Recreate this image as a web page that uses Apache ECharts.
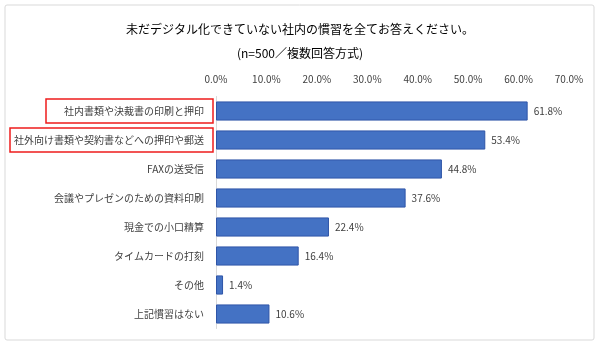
<!DOCTYPE html>
<html><head><meta charset="utf-8">
<script src="https://cdn.jsdelivr.net/npm/echarts@6/dist/echarts.min.js"></script>
<style>html,body{margin:0;padding:0;background:#fff}#c{width:600px;height:346px}</style>
</head><body><div id="c"></div>
<script>
const titleText = '未だデジタル化できていない社内の慣習を全てお答えください。';
const subtitleText = '(n=500／複数回答方式)';
const categories = ['社内書類や決裁書の印刷と押印','社外向け書類や契約書などへの押印や郵送','FAXの送受信','会議やプレゼンのための資料印刷','現金での小口精算','タイムカードの打刻','その他','上記慣習はない'];
const values = [61.8, 53.4, 44.8, 37.6, 22.4, 16.4, 1.4, 10.6];
const highlighted = [0, 1];
const axisMax = 70, axisStep = 10;
const FONT = '"Noto Sans CJK JP", "Noto Sans", sans-serif';

const chart = echarts.init(document.getElementById('c'), null, {renderer:'canvas'});
const grid = {left:216, top:96.5, width:353, height:232};
chart.setOption({
  animation:false,
  textStyle:{fontFamily:FONT},
  title:[
    {text:titleText, left:'center', top:18, textStyle:{fontSize:12, fontWeight:'normal', color:'#000', fontFamily:FONT}},
    {text:subtitleText, left:'center', top:42, textStyle:{fontSize:12, fontWeight:'normal', color:'#000', fontFamily:FONT}}
  ],
  grid:grid,
  xAxis:{type:'value', position:'top', min:0, max:axisMax, interval:axisStep,
    axisLine:{show:false}, axisTick:{show:false}, splitLine:{show:false},
    axisLabel:{fontSize:10, color:'#404040', margin:12, fontFamily:FONT, formatter:v=>v.toFixed(1)+'%'}},
  yAxis:{type:'category', inverse:true, data:categories,
    axisLine:{show:true, lineStyle:{color:'#d9d9d9', width:1}}, axisTick:{show:false},
    axisLabel:{fontSize:10, color:'#404040', margin:12, fontFamily:FONT}},
  series:[{type:'bar', data:values, barCategoryGap:'34%',
    itemStyle:{color:'#4472C4', borderColor:'#2f55a8', borderWidth:1},
    label:{show:true, position:'right', distance:6, fontSize:10, color:'#404040', fontFamily:FONT, formatter:p=>p.value.toFixed(1)+'%'}}]
});

// annotation boxes around highlighted categories, positioned via axis scale
const boxLefts = {0:46, 1:10};
const graphics = [{type:'rect', shape:{x:5, y:5, width:589, height:335, r:2}, style:{fill:'none', stroke:'#d9d9d9', lineWidth:1}, z:-1}];
highlighted.forEach(i=>{
  const yc = chart.convertToPixel({yAxisIndex:0}, i);
  const x0 = boxLefts[i];
  graphics.push({type:'rect', shape:{x:x0, y:yc-12, width:213-x0, height:24}, style:{fill:'none', stroke:'#ee1c1c', lineWidth:1.5}});
});
chart.setOption({graphic:graphics});
</script></body></html>
